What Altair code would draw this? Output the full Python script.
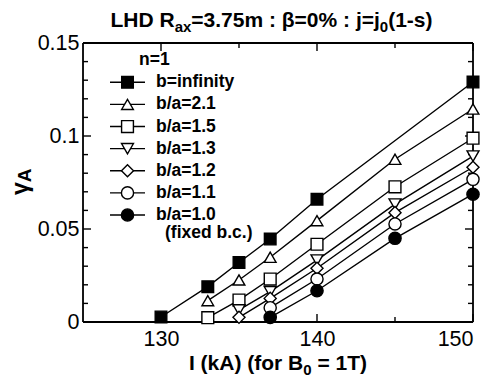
import altair as alt
import pandas as pd

# ---------------- data ----------------
series_names = ["b=infinity", "b/a=2.1", "b/a=1.5", "b/a=1.3", "b/a=1.2", "b/a=1.1", "b/a=1.0"]

I_inf = [130, 133, 135, 137, 140, 150]
g_inf = [0.0027, 0.019, 0.032, 0.0446, 0.066, 0.129]

I_21 = [133, 135, 137, 140, 145, 150]
g_21 = [0.0115, 0.0226, 0.0348, 0.0545, 0.0875, 0.1145]

I_15 = [133, 135, 137, 140, 145, 150]
g_15 = [0.0023, 0.0118, 0.0231, 0.0418, 0.0727, 0.0988]

I_13 = [135, 137, 140, 145, 150]
g_13 = [0.0065, 0.0163, 0.0333, 0.0634, 0.0892]

I_12 = [135, 137, 140, 145, 150]
g_12 = [0.0025, 0.0127, 0.0289, 0.0588, 0.0832]

I_11 = [137, 140, 145, 150]
g_11 = [0.0077, 0.0231, 0.0527, 0.0767]

I_10 = [137, 140, 145, 150]
g_10 = [0.0025, 0.0168, 0.045, 0.0687]

x_domain = [125, 150]
y_domain = [0, 0.15]
x_major = [130, 140, 150]
x_minor = [135, 145]
y_major = [0, 0.05, 0.1, 0.15]
y_minor = [0.01, 0.02, 0.03, 0.04, 0.06, 0.07, 0.08, 0.09, 0.11, 0.12, 0.13, 0.14]

title_pieces = [("LHD R", False), ("ax", True), ("=3.75m : β=0% : j=j", False), ("0", True), ("(1-s)", False)]
xtitle_pieces = [("I (kA) (for B", False), ("0", True), (" = 1T)", False)]
legend_header = "n=1"
legend_note = "(fixed b.c.)"

# ---------------- styles ----------------
shapes = ["square", "triangle-up", "square", "triangle-down", "diamond", "circle", "circle"]
fills = ["black", "white", "white", "white", "white", "white", "black"]
sizes = [135, 150, 135, 150, 230, 120, 120]

FONT = "Liberation Sans"
W, H = 390, 279
PADL, PADT, PADR, PADB = 75, 35, 10, 55
MAJOR_PX, MINOR_PX = 8, 5
SW = 1.4


def px(x):  # page x -> plot-area x
    return x - 8 - PADL


def py(y):  # page y -> plot-area y
    return y - 8 - PADT


BOLD_W = {
    " ": 278, "(": 333, ")": 333, "-": 333, ".": 278, "/": 278, ":": 333, "=": 584, "%": 889,
    "A": 722, "B": 722, "D": 722, "H": 722, "I": 278, "L": 611, "R": 722, "T": 611,
    "a": 556, "b": 611, "c": 556, "d": 611, "e": 556, "f": 333, "i": 278, "j": 278, "k": 556,
    "m": 889, "n": 611, "o": 611, "r": 389, "s": 556, "t": 333, "x": 556, "y": 556,
    "β": 611, "γ": 556,
}


def tw(s, size):
    return sum(BOLD_W.get(c, 556) for c in s) * size / 1000.0


def rich(pieces, cx, base_y, size, sub_size, sub_dy):
    total = sum(tw(t, sub_size if sub else size) for t, sub in pieces)
    x = cx - total / 2
    layers = []
    for t, sub in pieces:
        fs = sub_size if sub else size
        stripped = t.lstrip(" ")
        lead = tw(t[: len(t) - len(stripped)], fs)
        layers.append(
            alt.Chart(pd.DataFrame({"t": [stripped]})).mark_text(
                align="left", baseline="alphabetic", font=FONT, fontWeight="bold",
                fontSize=fs, color="black"
            ).encode(text="t:N", x=alt.value(px(x + lead)),
                     y=alt.value(py(base_y + (sub_dy if sub else 0))))
        )
        x += tw(t, fs)
    return layers


# ---------------- frames ----------------
rows = []
for name, xs, ys in zip(series_names,
                        [I_inf, I_21, I_15, I_13, I_12, I_11, I_10],
                        [g_inf, g_21, g_15, g_13, g_12, g_11, g_10]):
    for a, b in zip(xs, ys):
        rows.append({"series": name, "I": a, "g": b})
df = pd.DataFrame(rows)

leg = pd.DataFrame({"series": series_names, "row": list(range(len(series_names)))})

xscale = alt.Scale(domain=x_domain, nice=False, zero=False)
yscale = alt.Scale(domain=y_domain, nice=False, zero=False)
shape_s = alt.Scale(domain=series_names, range=shapes)
fill_s = alt.Scale(domain=series_names, range=fills)
size_s = alt.Scale(domain=series_names, range=sizes)

xaxis = alt.Axis(values=x_major, ticks=False, tickSize=0, domain=False, grid=False, title=None,
                 labelFont=FONT, labelFontSize=21.5, labelColor="black", labelPadding=6)
yaxis = alt.Axis(values=y_major, labelExpr="format(datum.value, '.2~f')", ticks=False, tickSize=0,
                 domain=False, grid=False, title=None, labelFont=FONT, labelFontSize=21.5,
                 labelColor="black", labelPadding=4)

lines = alt.Chart(df).mark_line(color="black", strokeWidth=SW).encode(
    x=alt.X("I:Q", scale=xscale, axis=xaxis),
    y=alt.Y("g:Q", scale=yscale, axis=yaxis),
    detail="series:N",
)

points = alt.Chart(df).mark_point(filled=True, stroke="black", strokeWidth=SW, opacity=1).encode(
    x=alt.X("I:Q", scale=xscale, axis=xaxis),
    y=alt.Y("g:Q", scale=yscale, axis=yaxis),
    shape=alt.Shape("series:N", scale=shape_s, legend=None),
    fill=alt.Fill("series:N", scale=fill_s, legend=None),
    size=alt.Size("series:N", scale=size_s, legend=None),
)

# ---------------- frame and inward ticks as short segments ----------------
dx = (x_domain[1] - x_domain[0]) / W   # data units per pixel
dy = (y_domain[1] - y_domain[0]) / H
tick_rows = []
frame_rows = []


def add_seg(store, x1, y1, x2, y2):
    sid = len(store) // 2
    store.append({"sid": sid, "o": 0, "I": x1, "g": y1})
    store.append({"sid": sid, "o": 1, "I": x2, "g": y2})


add_seg(frame_rows, x_domain[0], y_domain[0], x_domain[1], y_domain[0])
add_seg(frame_rows, x_domain[0], y_domain[1], x_domain[1], y_domain[1])
add_seg(frame_rows, x_domain[0], y_domain[0], x_domain[0], y_domain[1])
add_seg(frame_rows, x_domain[1], y_domain[0], x_domain[1], y_domain[1])
for vals, L in ((x_major, MAJOR_PX), (x_minor, MINOR_PX)):
    for v in vals:
        add_seg(tick_rows, v, y_domain[0], v, y_domain[0] + L * dy)
        add_seg(tick_rows, v, y_domain[1], v, y_domain[1] - L * dy)
for vals, L in ((y_major, MAJOR_PX), (y_minor, MINOR_PX)):
    for v in vals:
        add_seg(tick_rows, x_domain[0], v, x_domain[0] + L * dx, v)
        add_seg(tick_rows, x_domain[1], v, x_domain[1] - L * dx, v)

tick_layer = alt.Chart(pd.DataFrame(tick_rows)).mark_line(color="black", strokeWidth=SW).encode(
    x=alt.X("I:Q", scale=xscale, axis=xaxis),
    y=alt.Y("g:Q", scale=yscale, axis=yaxis),
    detail="sid:N", order="o:Q",
)
frame_layer = alt.Chart(pd.DataFrame(frame_rows)).mark_line(color="black", strokeWidth=1.8).encode(
    x=alt.X("I:Q", scale=xscale, axis=xaxis),
    y=alt.Y("g:Q", scale=yscale, axis=yaxis),
    detail="sid:N", order="o:Q",
)

main = alt.layer(lines, tick_layer, frame_layer, points)

# ---------------- legend ----------------
row_scale = alt.Scale(domain=[0, 6], range=[py(82.3), py(215)], nice=False, zero=False)
leg_line = alt.Chart(leg).mark_rule(color="black", strokeWidth=SW).encode(
    y=alt.Y("row:Q", scale=row_scale, axis=None),
    x=alt.value(px(110)), x2=alt.value(px(145)),
)
leg_pt = alt.Chart(leg).mark_point(filled=True, stroke="black", strokeWidth=SW, opacity=1).encode(
    y=alt.Y("row:Q", scale=row_scale, axis=None),
    x=alt.value(px(127.5)),
    shape=alt.Shape("series:N", scale=shape_s, legend=None),
    fill=alt.Fill("series:N", scale=fill_s, legend=None),
    size=alt.Size("series:N", scale=size_s, legend=None),
)
leg_txt = alt.Chart(leg).mark_text(
    align="left", baseline="middle", font=FONT, fontWeight="bold", fontSize=17.5, color="black"
).encode(
    y=alt.Y("row:Q", scale=row_scale, axis=None),
    x=alt.value(px(156)),
    text="series:N",
)
legend = alt.layer(leg_line, leg_pt, leg_txt)

hdr = alt.Chart(pd.DataFrame({"t": [legend_header]})).mark_text(
    align="left", baseline="middle", font=FONT, fontWeight="bold", fontSize=17.5, color="black"
).encode(text="t:N", x=alt.value(px(139)), y=alt.value(py(60)))
note = alt.Chart(pd.DataFrame({"t": [legend_note]})).mark_text(
    align="left", baseline="middle", font=FONT, fontWeight="bold", fontSize=17.5, color="black"
).encode(text="t:N", x=alt.value(px(165)), y=alt.value(py(233)))

# ---------------- titles ----------------
title_layers = rich(title_pieces, 271.5, 27, 21, 15, 5)
xtitle_layers = rich(xtitle_pieces, 278, 370, 21, 15, 5)

G_SIZE, A_SIZE = 23, 19
ytitle_g = alt.Chart(pd.DataFrame({"t": ["γ"]})).mark_text(
    align="left", baseline="alphabetic", angle=270, font=FONT, fontWeight="bold",
    fontSize=G_SIZE, color="black"
).encode(text="t:N", x=alt.value(px(28)), y=alt.value(py(195)))
ytitle_a = alt.Chart(pd.DataFrame({"t": ["A"]})).mark_text(
    align="left", baseline="alphabetic", angle=270, font=FONT, fontWeight="bold",
    fontSize=A_SIZE, color="black"
).encode(text="t:N", x=alt.value(px(31)), y=alt.value(py(195 - tw("γ", G_SIZE))))

texts = alt.layer(hdr, note, *title_layers, *xtitle_layers, ytitle_g, ytitle_a)

chart = alt.layer(main, legend, texts).resolve_scale(
    y="independent", shape="shared", fill="shared", size="shared"
).properties(
    width=W, height=H,
    padding={"left": PADL, "top": PADT, "right": PADR, "bottom": PADB},
    autosize=alt.AutoSizeParams(type="none"),
)

chart.save("out.html", embed_options={"renderer": "svg", "actions": False})
